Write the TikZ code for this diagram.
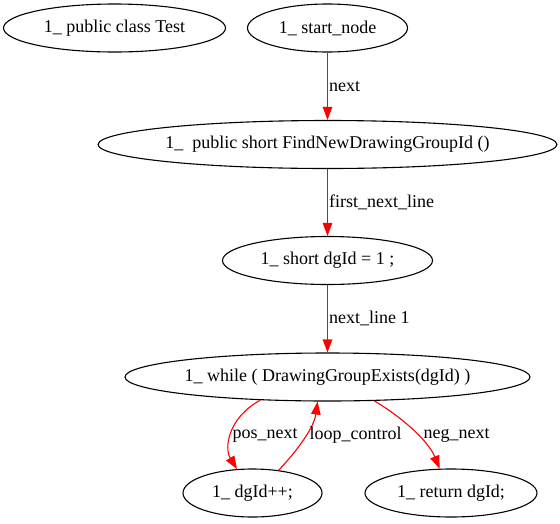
\documentclass[tikz,border=0pt]{standalone}
\usepackage{fontspec}
\setmainfont{Liberation Serif}
\usetikzlibrary{shapes.geometric,arrows.meta}

\definecolor{flw}{RGB}{255,0,0}

\tikzset{
  blk/.style={draw,ellipse,line width=1.1pt,minimum height=48pt,inner sep=0pt},
  lnk/.style={draw=flw,line width=1.1pt,-{Triangle[length=13pt,width=9.5pt]}},
  lbl/.style={inner sep=1pt}
}

\begin{document}
\begin{tikzpicture}[x=1pt,y=-1pt,font=\fontsize{18}{20}\selectfont]
    \useasboundingbox (0,0) rectangle (560,523);

    \node[blk,minimum width=222pt] (cls)   at (114.5,28)  {1\_ public class Test};
    \node[blk,minimum width=160pt] (start) at (327.5,28)  {1\_ start\_node};
    \node[blk,minimum width=455pt] (find)  at (327.5,144.5) {1\_~ public short FindNewDrawingGroupId ()};
    \node[blk,minimum width=210pt] (decl)  at (327.5,260.5) {1\_ short dgId = 1 ;};
    \node[blk,minimum width=405pt] (loop)  at (327.5,377) {1\_ while ( DrawingGroupExists(dgId) )};
    \node[blk,minimum width=139pt] (incr)  at (252.5,493) {1\_ dgId++;};
    \node[blk,minimum width=172pt] (ret)   at (451,493)   {1\_ return dgId;};

    \draw[lnk] (start) -- node[lbl,right]{next} (find);
    \draw[lnk] (find) -- node[lbl,right]{first\_next\_line} (decl);
    \draw[lnk] (decl) -- node[lbl,right]{next\_line 1} (loop);
    \draw[lnk] (loop.199) .. controls (228,418) and (224,448) .. (incr.123)
        node[lbl,anchor=west] at (231,435) {pos\_next};
    \draw[lnk] (incr.41) .. controls (296,452) and (314,428) .. (loop.248)
        node[lbl,anchor=west] at (308,435) {loop\_control};
    \draw[lnk] (loop.333) .. controls (400,416) and (428,440) .. (ret.115)
        node[lbl,anchor=west] at (422,435) {neg\_next};

\end{tikzpicture}
\end{document}
